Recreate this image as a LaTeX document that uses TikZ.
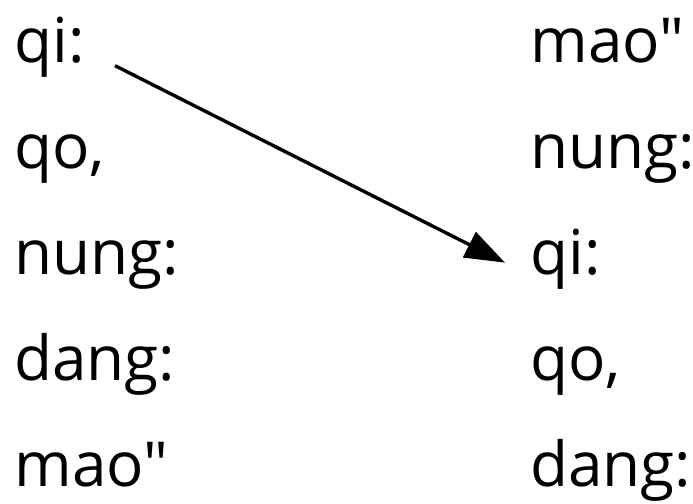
\documentclass[tikz,border=0pt]{standalone}
\usepackage{fontspec}
\setmainfont{Open Sans}[Ligatures=TeXOff]
\usetikzlibrary{arrows.meta}

\begin{document}
\begin{tikzpicture}[x=0.5pt,y=-0.5pt,
	word/.style={anchor=base west,inner sep=0pt,font=\fontsize{31}{37}\selectfont},
	link/.style={line width=1.7pt,-{Triangle[length=20pt,width=14pt]}}]
	\useasboundingbox (0,0) rectangle (693,504);
	% first order
	\foreach \w [count=\i] in {qi:,{qo,},nung:,dang:,mao"} {
		\node[word] (l\i) at (14,{62+106*(\i-1)}) {\w};
	}
	% second order
	\foreach \w [count=\i] in {mao",nung:,qi:,{qo,},dang:} {
		\node[word] (r\i) at (530,{62+106*(\i-1)}) {\w};
	}
	\draw[link] ([xshift=15pt,yshift=-4.5pt]l1.mid east) -- ([xshift=-12.5pt,yshift=3pt]r3.mid west);
\end{tikzpicture}
\end{document}
